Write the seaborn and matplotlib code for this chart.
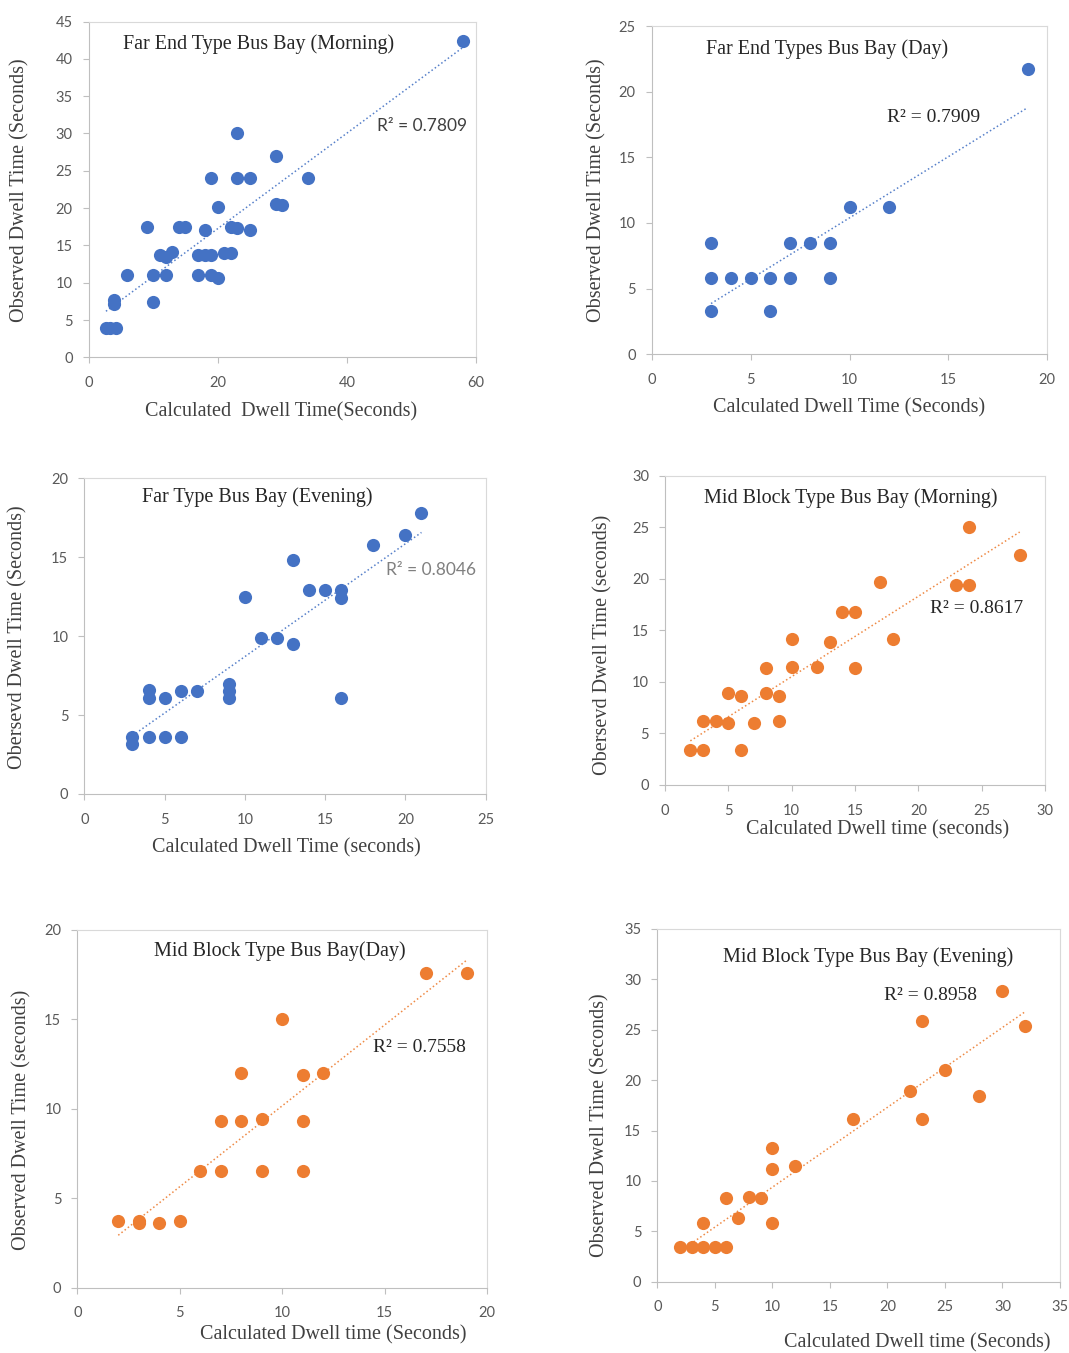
import seaborn as sns
import matplotlib.pyplot as plt

# Far End Type Bus Bay (Morning)
fem_x = [58, 23, 29, 19, 23, 25, 34, 29, 30, 20, 9, 14, 15, 18, 22, 23, 25, 11, 12, 13, 17, 18, 19,
         21, 22, 6, 10, 12, 17, 19, 20, 10, 4, 4, 2.7, 3.4, 4.3]
fem_y = [42.4, 30, 27, 24, 24, 24, 24, 20.6, 20.4, 20.2, 17.5, 17.5, 17.5, 17.1, 17.5, 17.3, 17.1,
         13.7, 13.5, 14.1, 13.7, 13.7, 13.7, 14, 14, 11, 11, 11, 11, 11, 10.7, 7.4, 7.7, 7.1, 3.9, 3.9, 3.9]

# Far End Types Bus Bay (Day)
fed_x = [19, 10, 12, 3, 7, 8, 9, 3, 4, 5, 6, 7, 9, 3, 6]
fed_y = [21.7, 11.2, 11.2, 8.5, 8.5, 8.5, 8.5, 5.8, 5.8, 5.8, 5.8, 5.8, 5.8, 3.3, 3.3]

# Far Type Bus Bay (Evening)
fe_x = [21, 20, 18, 13, 14, 15, 16, 16, 10, 11, 12, 13, 4, 4, 5, 6, 7, 9, 9, 9, 16, 3, 3, 4, 5, 6]
fe_y = [17.8, 16.4, 15.8, 14.8, 12.9, 12.9, 12.9, 12.4, 12.5, 9.9, 9.9, 9.5, 6.6, 6.1, 6.1, 6.5,
        6.5, 7.0, 6.5, 6.1, 6.1, 3.6, 3.2, 3.6, 3.6, 3.6]

# Mid Block Type Bus Bay (Morning)
mbm_x = [24, 28, 17, 23, 24, 14, 15, 10, 13, 18, 8, 10, 12, 15, 5, 6, 8, 9, 3, 4, 5, 7, 9, 2, 3, 6]
mbm_y = [25, 22.3, 19.7, 19.4, 19.4, 16.8, 16.8, 14.2, 13.9, 14.2, 11.3, 11.4, 11.4, 11.3, 8.95,
         8.6, 8.9, 8.6, 6.2, 6.2, 6.0, 6.0, 6.2, 3.4, 3.4, 3.4]

# Mid Block Type Bus Bay (Day)
mbd_x = [17, 19, 10, 8, 11, 12, 7, 8, 9, 11, 6, 7, 9, 11, 2, 3, 3, 4, 5]
mbd_y = [17.6, 17.6, 15, 12, 11.9, 12, 9.3, 9.3, 9.4, 9.3, 6.5, 6.5, 6.5, 6.5, 3.7, 3.7, 3.6, 3.6, 3.7]

# Mid Block Type Bus Bay (Evening)
mbe_x = [30, 23, 32, 25, 22, 28, 17, 23, 10, 10, 12, 6, 8, 9, 7, 4, 10, 2, 3, 4, 5, 6]
mbe_y = [28.8, 25.9, 25.4, 21, 18.9, 18.4, 16.1, 16.1, 13.3, 11.2, 11.5, 8.3, 8.4, 8.3, 6.3, 5.8,
         5.8, 3.4, 3.4, 3.4, 3.4, 3.4]

W, H = 1069, 1353
BLUE = "#4472C4"
ORANGE = "#ED7D31"
SERIF = ["Liberation Serif", "DejaVu Serif"]
SANS = ["Lato", "DejaVu Sans"]

sns.set_style("white")
plt.rcParams["font.family"] = SERIF

fig = plt.figure(figsize=(W / 100, H / 100), dpi=100)


def fpos(x, y):
    return x / W, 1 - y / H


def panel(x, y, color, rect, xmax, xstep, ymax, ystep,
          title, title_xy, r2, r2_xy, r2_sans, xlabel, xlabel_xy, ylabel, ylabel_xy):
    l, t, r, b = rect
    ax = fig.add_axes([l / W, 1 - b / H, (r - l) / W, (b - t) / H])
    sns.regplot(x=x, y=y, ax=ax, ci=None, color=color,
                scatter_kws=dict(s=90, alpha=1, linewidths=0),
                line_kws=dict(ls=":", lw=1.1, alpha=0.9))
    ax.set_xlim(0, xmax)
    ax.set_ylim(0, ymax)
    ax.set_xticks(range(0, xmax + 1, xstep))
    ax.set_yticks(range(0, ymax + 1, ystep))
    ax.tick_params(length=4.5, width=0.8, color="#BFBFBF", labelsize=10.5,
                   labelcolor="#595959", direction="out", pad=7)
    ax.tick_params(axis="x", pad=9)
    ax.tick_params(bottom=True, left=True)
    for lab in ax.get_xticklabels() + ax.get_yticklabels():
        lab.set_family(SANS)
    for side in ["left", "bottom"]:
        ax.spines[side].set_color("#BFBFBF")
    for side in ["top", "right"]:
        ax.spines[side].set_color("#D9D9D9")
    ax.set_xlabel("")
    ax.set_ylabel("")

    fig.text(*fpos(*title_xy), title, ha="center", va="center", fontsize=14.5, color="#262626")
    if r2_sans:
        fig.text(*fpos(*r2_xy), r2, ha="center", va="center", fontsize=12.5,
                 family=SANS, color=r2_sans)
    else:
        fig.text(*fpos(*r2_xy), r2, ha="center", va="center", fontsize=14, color="#262626")
    fig.text(*fpos(*xlabel_xy), xlabel, ha="center", va="center", fontsize=14.5, color="#404040")
    fig.text(*fpos(*ylabel_xy), ylabel, ha="center", va="center", fontsize=14.5,
             color="#404040", rotation=90)
    return ax


panel(fem_x, fem_y, BLUE, (88.5, 21.5, 476, 357.5), 60, 20, 45, 5,
      "Far End Type Bus Bay (Morning)", (259, 44), "R² = 0.7809", (422, 126), "#404040",
      "Calculated  Dwell Time(Seconds)", (281, 412), "Observed Dwell Time (Seconds)", (20, 190))

panel(fed_x, fed_y, BLUE, (651.7, 26, 1047.3, 354.3), 20, 5, 25, 5,
      "Far End Types Bus Bay (Day)", (827, 49), "R² = 0.7909", (934, 118), None,
      "Calculated Dwell Time (Seconds)", (849, 408), "Observed Dwell Time (Seconds)", (597, 190))

panel(fe_x, fe_y, BLUE, (84.3, 478.4, 485.7, 794), 25, 5, 20, 5,
      "Far Type Bus Bay (Evening)", (257, 497), "R² = 0.8046", (431, 570), "#808080",
      "Calculated Dwell Time (seconds)", (286, 848), "Obersevd Dwell Time (Seconds)", (18, 637))

panel(mbm_x, mbm_y, ORANGE, (665, 475.7, 1045, 785), 30, 5, 30, 5,
      "Mid Block Type Bus Bay (Morning)", (851, 498), "R² = 0.8617", (977, 608), None,
      "Calculated Dwell time (seconds)", (878, 830), "Obersevd Dwell Time (seconds)", (603, 645))

panel(mbd_x, mbd_y, ORANGE, (77.3, 929.7, 487, 1287.7), 20, 5, 20, 5,
      "Mid Block Type Bus Bay(Day)", (280, 951), "R² = 0.7558", (419, 1047), None,
      "Calculated Dwell time (Seconds)", (333, 1335), "Observed Dwell Time (seconds)", (22, 1120))

panel(mbe_x, mbe_y, ORANGE, (657.3, 929, 1060, 1281.7), 35, 5, 35, 5,
      "Mid Block Type Bus Bay (Evening)", (868, 957), "R² = 0.8958", (930, 996), None,
      "Calculated Dwell time (Seconds)", (917, 1343), "Observed Dwell Time (Seconds)", (600, 1125))

fig.savefig("out.png", dpi=100, facecolor="white")
